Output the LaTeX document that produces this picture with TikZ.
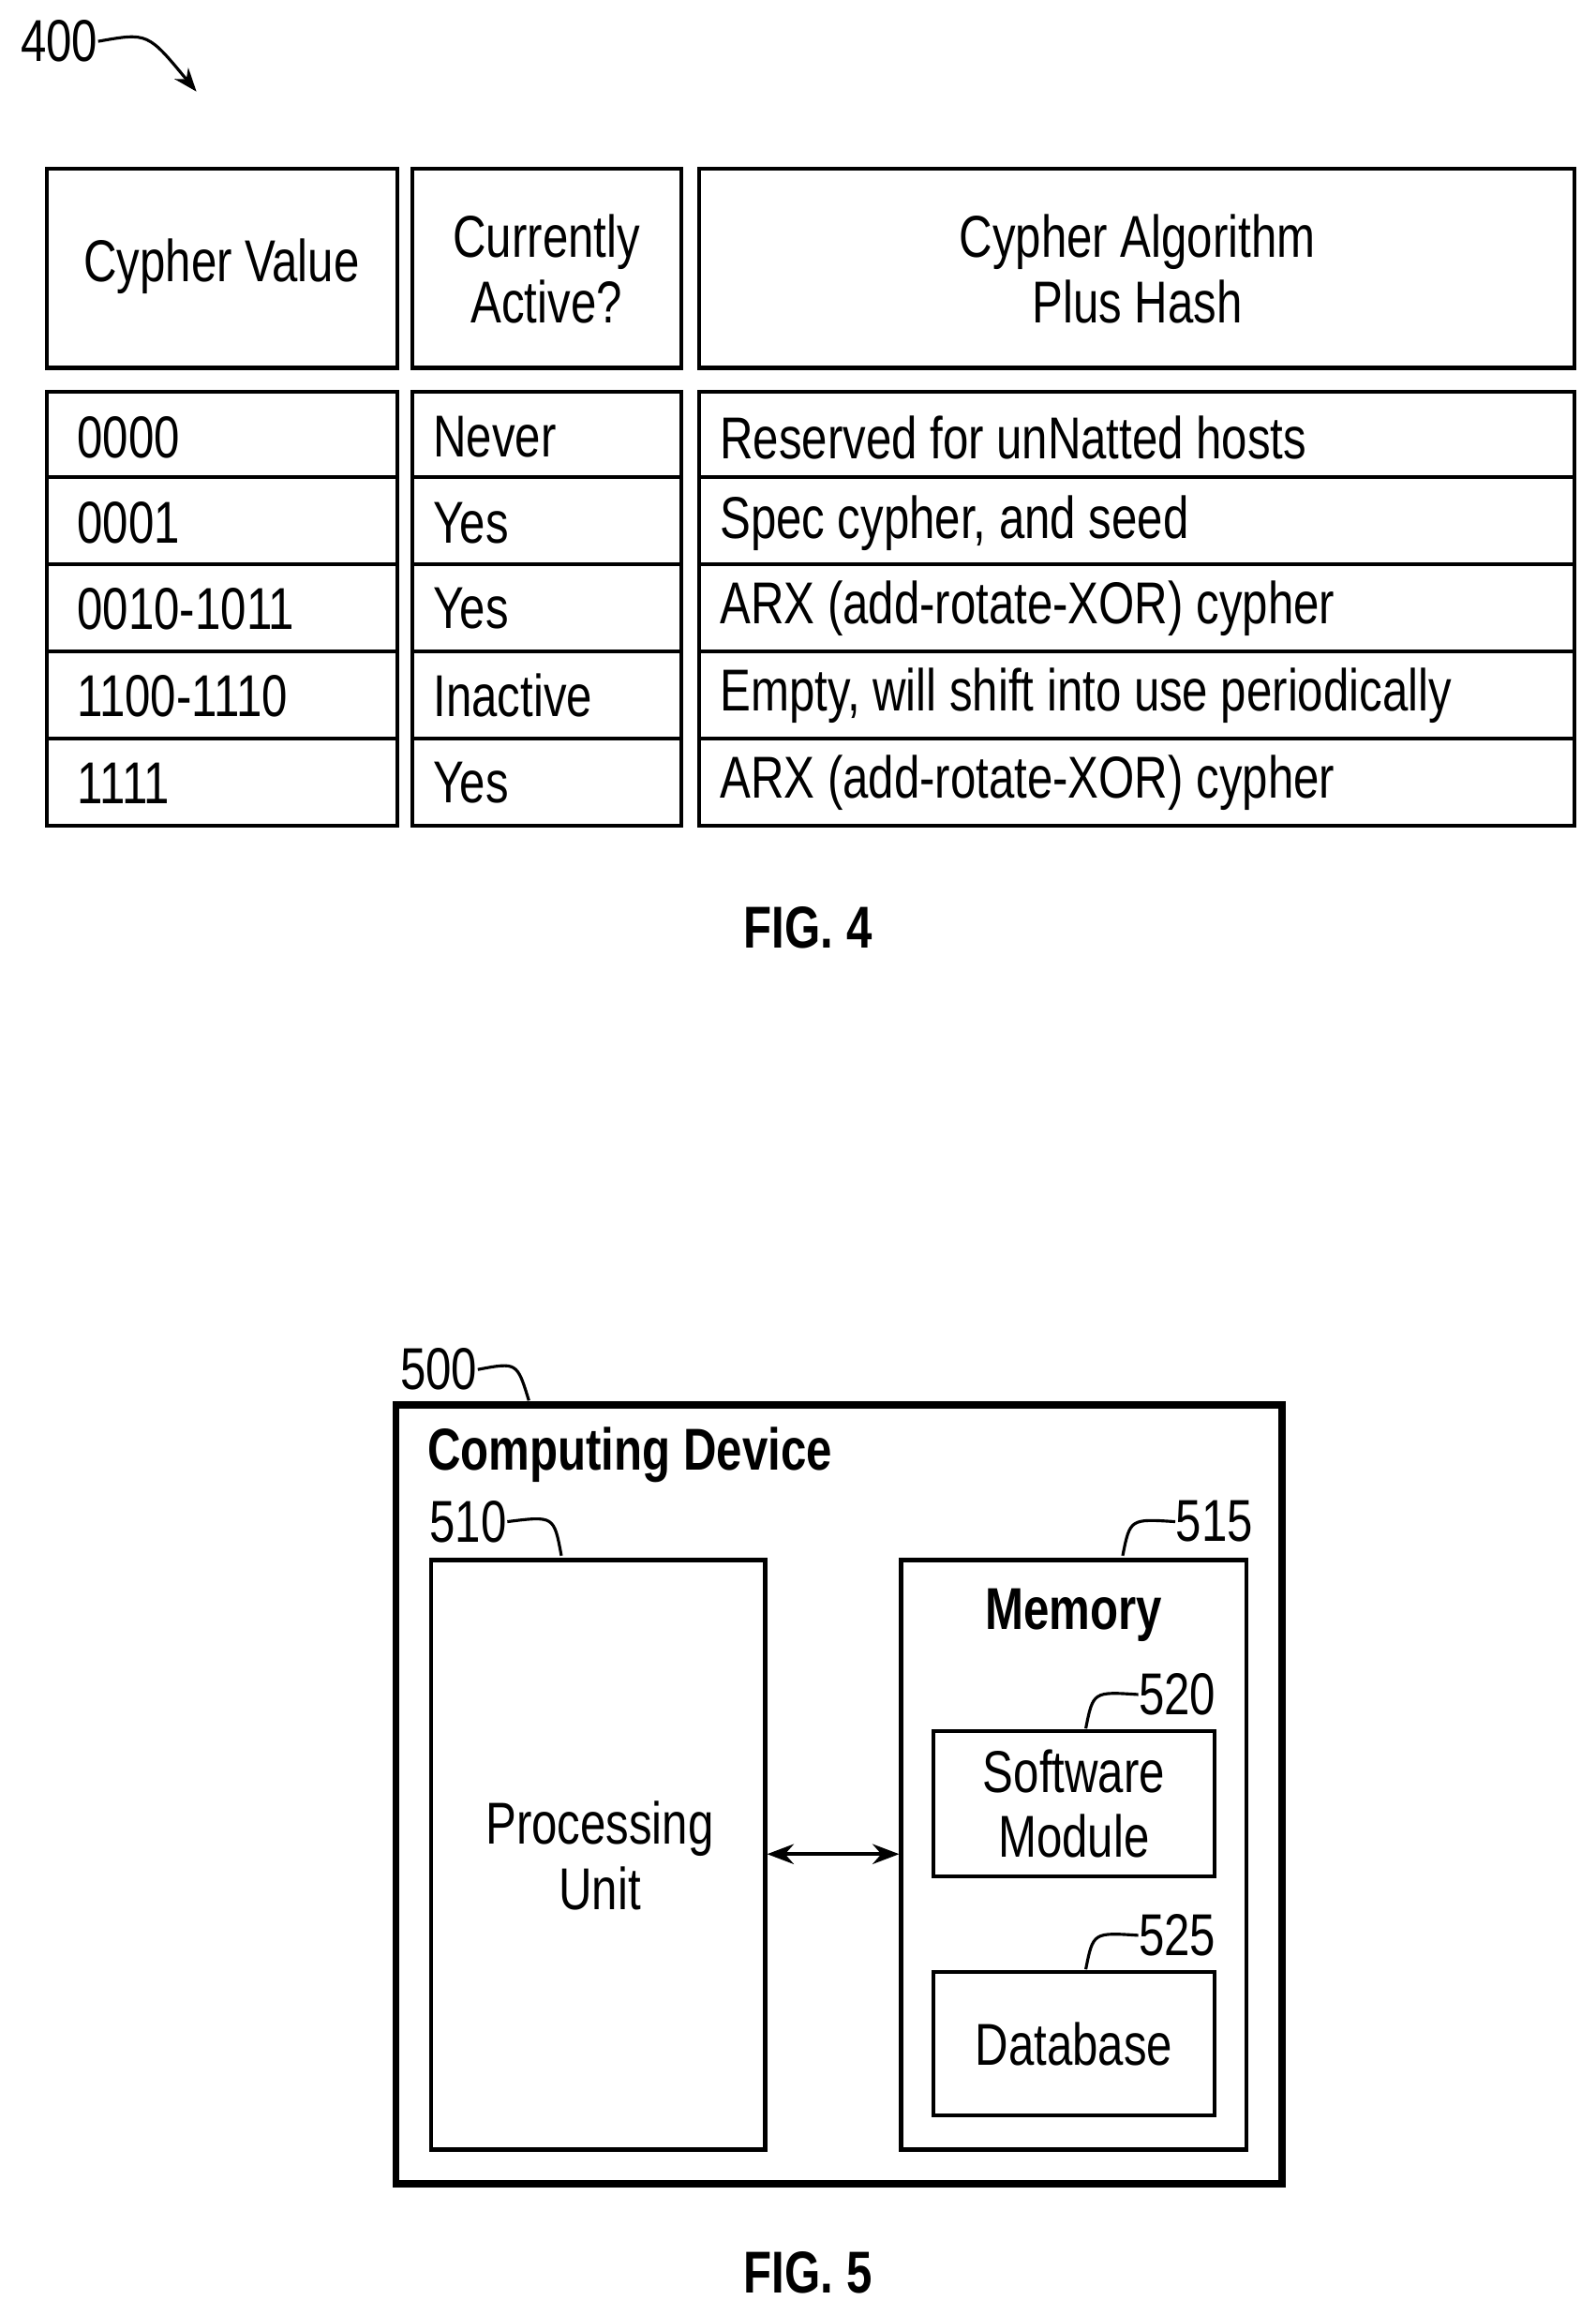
\documentclass[tikz,border=0pt]{standalone}
\usepackage{fontspec}
\setmainfont{Liberation Sans}[FakeStretch=0.78]
\usetikzlibrary{arrows.meta}
\begin{document}
\begin{tikzpicture}[x=0.5pt,y=-0.5pt,
  cell/.style={draw,line width=1.3pt},
  txt/.style={font=\fontsize{20}{22}\selectfont,inner sep=0},
  btxt/.style={font=\fontsize{20}{22}\selectfont\bfseries,inner sep=0},
  lead/.style={line width=1pt}]
\useasboundingbox (0,0) rectangle (1080,1567);
% FIG 4
\node[txt] (n400) at (40,28) {400};
\coordinate (a400) at (133,62);
\draw[lead,-{Stealth[length=8pt]}] (n400.east) .. controls (100,22) .. (a400);
\foreach \xa/\xb in {32/269,279/461,473/1066}{
  \draw[cell] (\xa,114) rectangle (\xb,249);
  \foreach \ya/\yb in {265/323,323/382,382/441,441/500,500/559}
    \draw[cell] (\xa,\ya) rectangle (\xb,\yb);}
\node[txt] (h1) at (150,180) {Cypher Value};
\node[txt,align=center] (h2) at (370,182) {Currently\\Active?};
\node[txt,align=center] (h3) at (770,182) {Cypher Algorithm\\Plus Hash};
\foreach \y/\a/\b/\c [count=\i] in {
  296/0000/Never/Reserved for unNatted hosts,
  354/0001/Yes/{Spec cypher, and seed},
  412/0010-1011/Yes/ARX (add-rotate-XOR) cypher,
  471/1100-1110/Inactive/{Empty, will shift into use periodically},
  530/1111/Yes/ARX (add-rotate-XOR) cypher}{
  \node[txt,anchor=west] (c1r\i) at (52,\y) {\a};
  \node[txt,anchor=west] (c2r\i) at (293,\y) {\b};
  \node[txt,anchor=west] (c3r\i) at (487,\y) {\c};}
\node[btxt] (f4) at (547,628) {FIG. 4};
% FIG 5
\draw[line width=2.5pt] (268,951) rectangle (868,1478);
\node[txt] (n500) at (297,927) {500};
\coordinate (e500) at (358,948);
\draw[lead] (n500.east) .. controls (350,922) .. (e500);
\node[btxt,anchor=west] (cd) at (289,985) {Computing Device};
\node[draw,line width=1.3pt,minimum width=113pt,minimum height=199.5pt] (pu) at (405,1255.5) {};
\node[txt,align=center] at (406,1256) {Processing\\Unit};
\node[draw,line width=1.3pt,minimum width=117pt,minimum height=199.5pt] (mem) at (727,1255.5) {};
\node[btxt] (memt) at (727,1093) {Memory};
\node[draw,line width=1.3pt,minimum width=95pt,minimum height=49pt,txt,align=center] (sw) at (727,1221) {Software\\Module};
\node[draw,line width=1.3pt,minimum width=95pt,minimum height=48.5pt,txt] (db) at (727,1383.5) {Database};
\draw[line width=1.3pt,{Stealth[length=9pt]}-{Stealth[length=9pt]}] (pu.east |- 0,1255) -- (mem.west |- 0,1255);
\node[txt] (n510) at (317,1030) {510};
\draw[lead] (n510.east) .. controls (375,1026) .. (380,1053);
\node[txt] (n515) at (822,1030) {515};
\draw[lead] (n515.west) .. controls (765,1028) .. (760,1053);
\node[txt] (n520) at (797,1147) {520};
\draw[lead] (n520.west) .. controls (740,1145) .. (735,1170);
\node[txt] (n525) at (797,1310) {525};
\draw[lead] (n525.west) .. controls (740,1308) .. (735,1333);
\node[btxt] (f5) at (547,1538) {FIG. 5};
\end{tikzpicture}
\end{document}
